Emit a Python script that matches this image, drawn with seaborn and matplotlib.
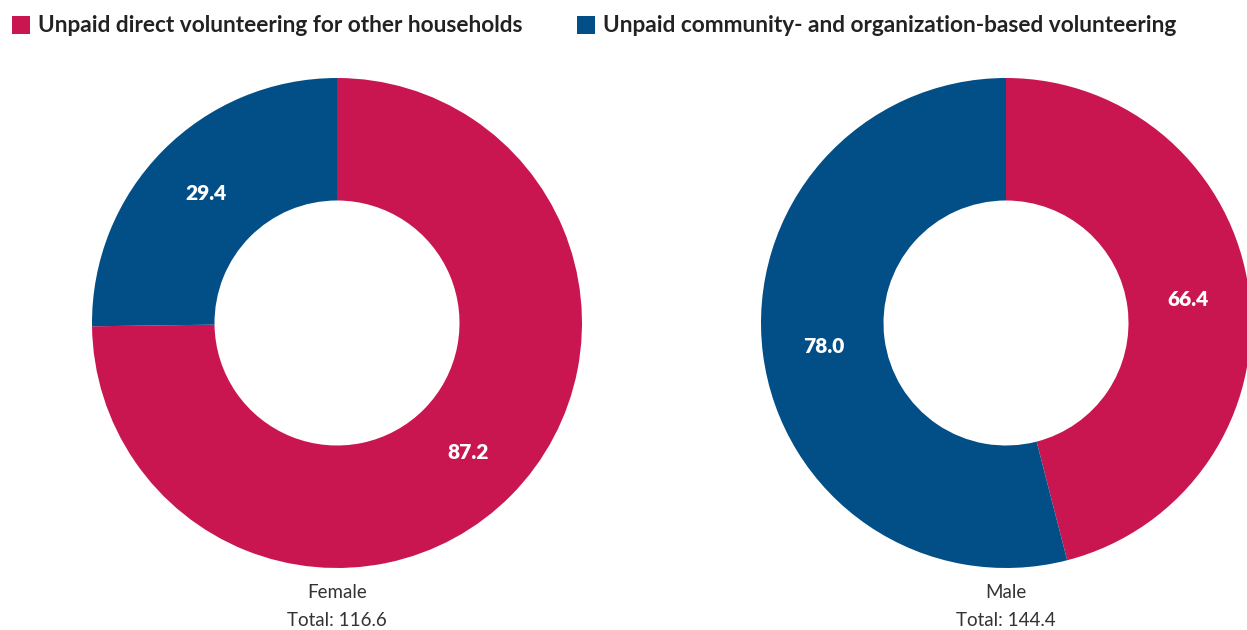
import numpy as np
import matplotlib
matplotlib.use("Agg")
import matplotlib.pyplot as plt
from matplotlib.patches import Rectangle
import seaborn as sns

# Volunteering hours by sex
groups = ["Female", "Male"]
categories = ["Unpaid direct volunteering for other households",
              "Unpaid community- and organization-based volunteering"]
direct_values = [87.2, 66.4]
community_values = [29.4, 78.0]
totals = [116.6, 144.4]

sns.set_theme(style="white")
plt.rcParams["font.family"] = ["Lato", "DejaVu Sans"]
palette = sns.color_palette(["#C91651", "#024F87"])

W, H = 1247, 630
fig = plt.figure(figsize=(W / 100, H / 100), dpi=100)
ax = fig.add_axes([0, 0, 1, 1])

centers = [(337, H - 323), (1006, H - 323)]
radius = 245
ring = 0.5

for i, g in enumerate(groups):
    vals = [direct_values[i], community_values[i]]
    wedges, _ = ax.pie(vals, colors=palette, startangle=90, counterclock=False,
                       radius=radius, center=centers[i],
                       wedgeprops=dict(width=radius * ring, linewidth=0))
    cx, cy = centers[i]
    for w, v in zip(wedges, vals):
        ang = np.deg2rad((w.theta1 + w.theta2) / 2)
        r = radius * (1 - ring / 2)
        ax.text(cx + r * np.cos(ang), cy + r * np.sin(ang), f"{v:.1f}",
                ha="center", va="center", color="white",
                fontsize=15, fontweight="heavy")
    ax.text(cx, H - 592, g, ha="center", va="center", fontsize=13.5, color="#333333")
    ax.text(cx, H - 620, f"Total: {totals[i]:.1f}", ha="center", va="center",
            fontsize=13.5, color="#333333")

# Legend along the top
legend_x = [12, 577]
for x0, cat, col in zip(legend_x, categories, palette):
    ax.add_patch(Rectangle((x0, H - 34), 18, 18, color=col, linewidth=0))
    ax.text(x0 + 26, H - 25, cat, ha="left", va="center", fontsize=16.3,
            fontweight="bold", color="#222222")

ax.set_xlim(0, W)
ax.set_ylim(0, H)
ax.set_aspect("auto")
ax.axis("off")

fig.savefig("out.png", dpi=100, facecolor="white")
